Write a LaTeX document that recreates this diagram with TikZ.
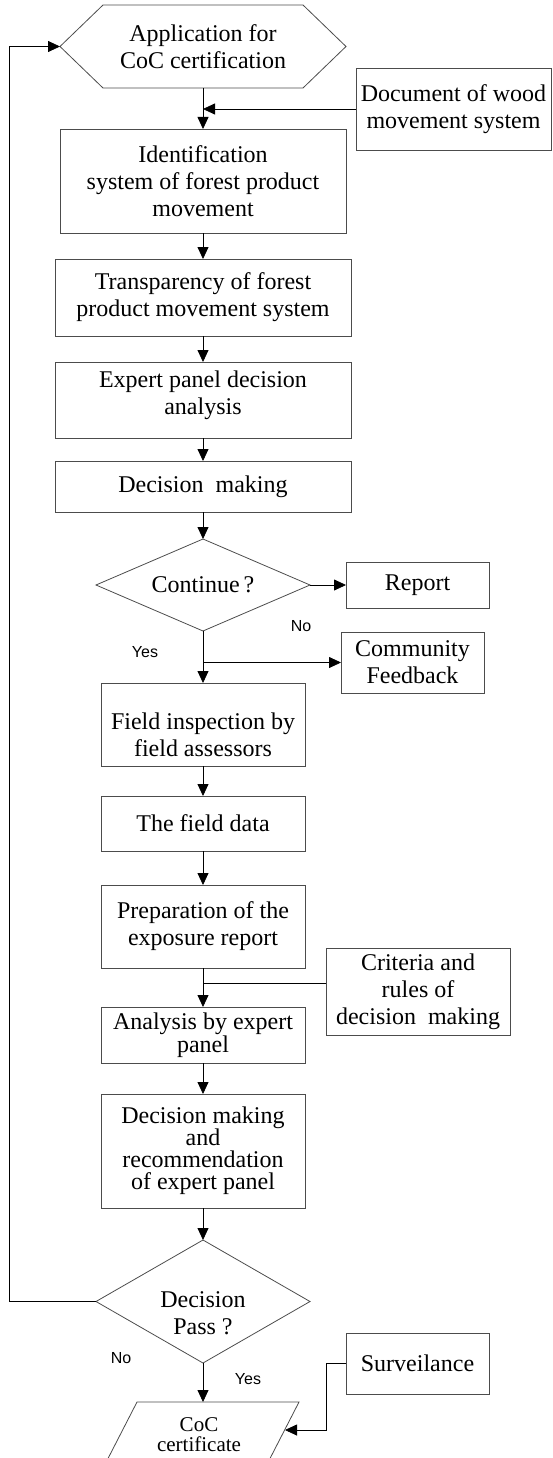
\documentclass[tikz,border=0pt]{standalone}
\usepackage{fontspec}
\setmainfont{Liberation Serif}
\newfontfamily\yesnofont{Liberation Sans}
\usetikzlibrary{shapes,positioning,arrows.meta,calc}

\begin{document}
\begin{tikzpicture}[x=1pt, y=-1pt, font=\fontsize{24}{27}\selectfont,
        box/.style={draw=black!70, line width=0.8pt, align=center, inner sep=0pt, outer sep=0pt},
        decide/.style={diamond, aspect=2.3, draw=black!70, line width=0.8pt, align=center, inner sep=1pt, outer sep=0pt},
        arr/.style={-{Triangle[length=12pt,width=11pt]}, line width=0.8pt},
        yn/.style={font=\yesnofont\fontsize{16}{18}\selectfont}]
    \useasboundingbox (0,0) rectangle (553,1458);
    % main column
    \node[box, draw=none, minimum width=286pt, minimum height=83pt] (app) at (203,46.5) {Application for\\CoC certification};
    \draw[draw=black!70, line width=0.8pt] (app.west) -- ([xshift=43pt]app.north west) -- ([xshift=-43pt]app.north east) -- (app.east) -- ([xshift=-43pt]app.south east) -- ([xshift=43pt]app.south west) -- cycle;
    \node[box, minimum width=286pt, minimum height=104pt] (ident) at (203,181) {Identification\\system of forest product\\movement};
    \node[box, minimum width=296pt, minimum height=77pt] (transp) at (203,297.5) {Transparency of forest\\product movement system};
    \node[box, minimum width=296pt, minimum height=76pt] (expert) at (203,400) {Expert panel decision\\analysis\rule[-14pt]{0pt}{1pt}};
    \node[box, minimum width=296pt, minimum height=51pt] (decmake) at (203,486.5) {Decision\enspace making};
    \node[decide, minimum width=214pt, minimum height=92pt] (cont) at (203,585) {Continue\,?};
    \node[box, minimum width=204pt, minimum height=83pt] (field) at (203,724.5) {\rule{0pt}{38pt}Field inspection by\\field assessors};
    \node[box, minimum width=204pt, minimum height=55pt] (fdata) at (203,823.5) {The field data};
    \node[box, minimum width=204pt, minimum height=83pt] (prep) at (203,926.5) {Preparation of the\\exposure report};
    \node[box, minimum width=204pt, minimum height=56pt, font=\fontsize{24}{21}\selectfont] (analys) at (203,1035) {Analysis by expert\\panel};
    \node[box, minimum width=204pt, minimum height=114pt, font=\fontsize{24}{22}\selectfont] (recom) at (203,1151) {Decision making\\and\\recommendation\\of expert panel};
    \node[decide, minimum width=214pt, minimum height=123pt] (pass) at (203,1301.5) {};
    \node[align=center, inner sep=0pt] (passtxt) at (203,1313) {Decision\\Pass ?};
    \node[font=\fontsize{21}{20}\selectfont, align=center, minimum height=66pt, inner sep=0pt] (coc) at (199,1435) {CoC\\certificate};
    \draw[draw=black!70, line width=0.8pt] (137,1402) -- (299,1402) -- (261,1476) -- (99,1476) -- cycle;
    \coordinate (cocedge) at (285,1430);
    % side boxes
    \node[box, minimum width=195pt, minimum height=82pt] (doc) at (453.5,109) {Document of wood\\movement system};
    \node[box, minimum width=143pt, minimum height=46pt] (report) at (417.5,585) {Report};
    \node[box, minimum width=143pt, minimum height=61pt] (commun) at (412.5,662.5) {Community\\Feedback};
    \node[box, minimum width=184pt, minimum height=87pt] (crit) at (418,991.5) {Criteria and\\rules of\\decision\enspace making};
    \node[box, minimum width=143pt, minimum height=61pt] (surv) at (417.5,1363.5) {Surveilance};
    % connectors
    \draw[arr] (app) -- (ident);
    \draw[arr] (doc.west) -- (doc.west -| app.south);
    \draw[arr] (ident) -- (transp);
    \draw[arr] (transp) -- (expert);
    \draw[arr] (expert) -- (decmake);
    \draw[arr] (decmake) -- (cont);
    \draw[arr] (cont) -- (report);
    \draw[arr] (cont) -- (field);
    \draw[arr] (cont.south |- commun.west) -- (commun.west);
    \node[yn] (no1) at (301,626) {No};
    \node[yn] (yes1) at (145,652) {Yes};
    \draw[arr] (field) -- (fdata);
    \draw[arr] (fdata) -- (prep);
    \draw[arr] (prep) -- (analys);
    \draw[line width=0.8pt] ([yshift=8.5pt]crit.west) -- ([yshift=8.5pt]crit.west -| prep.south);
    \draw[arr] (analys) -- (recom);
    \draw[arr] (recom) -- (pass);
    \draw[arr] (pass.west) -- ++(-87,0) |- (app.west);
    \draw[arr] (pass.south) -- (pass.south |- 0,1402);
    \draw[arr] (surv.west) -- ++(-20,0) |- (cocedge);
    \node[yn] (no2) at (121,1358) {No};
    \node[yn] (yes2) at (248,1379) {Yes};
\end{tikzpicture}
\end{document}
